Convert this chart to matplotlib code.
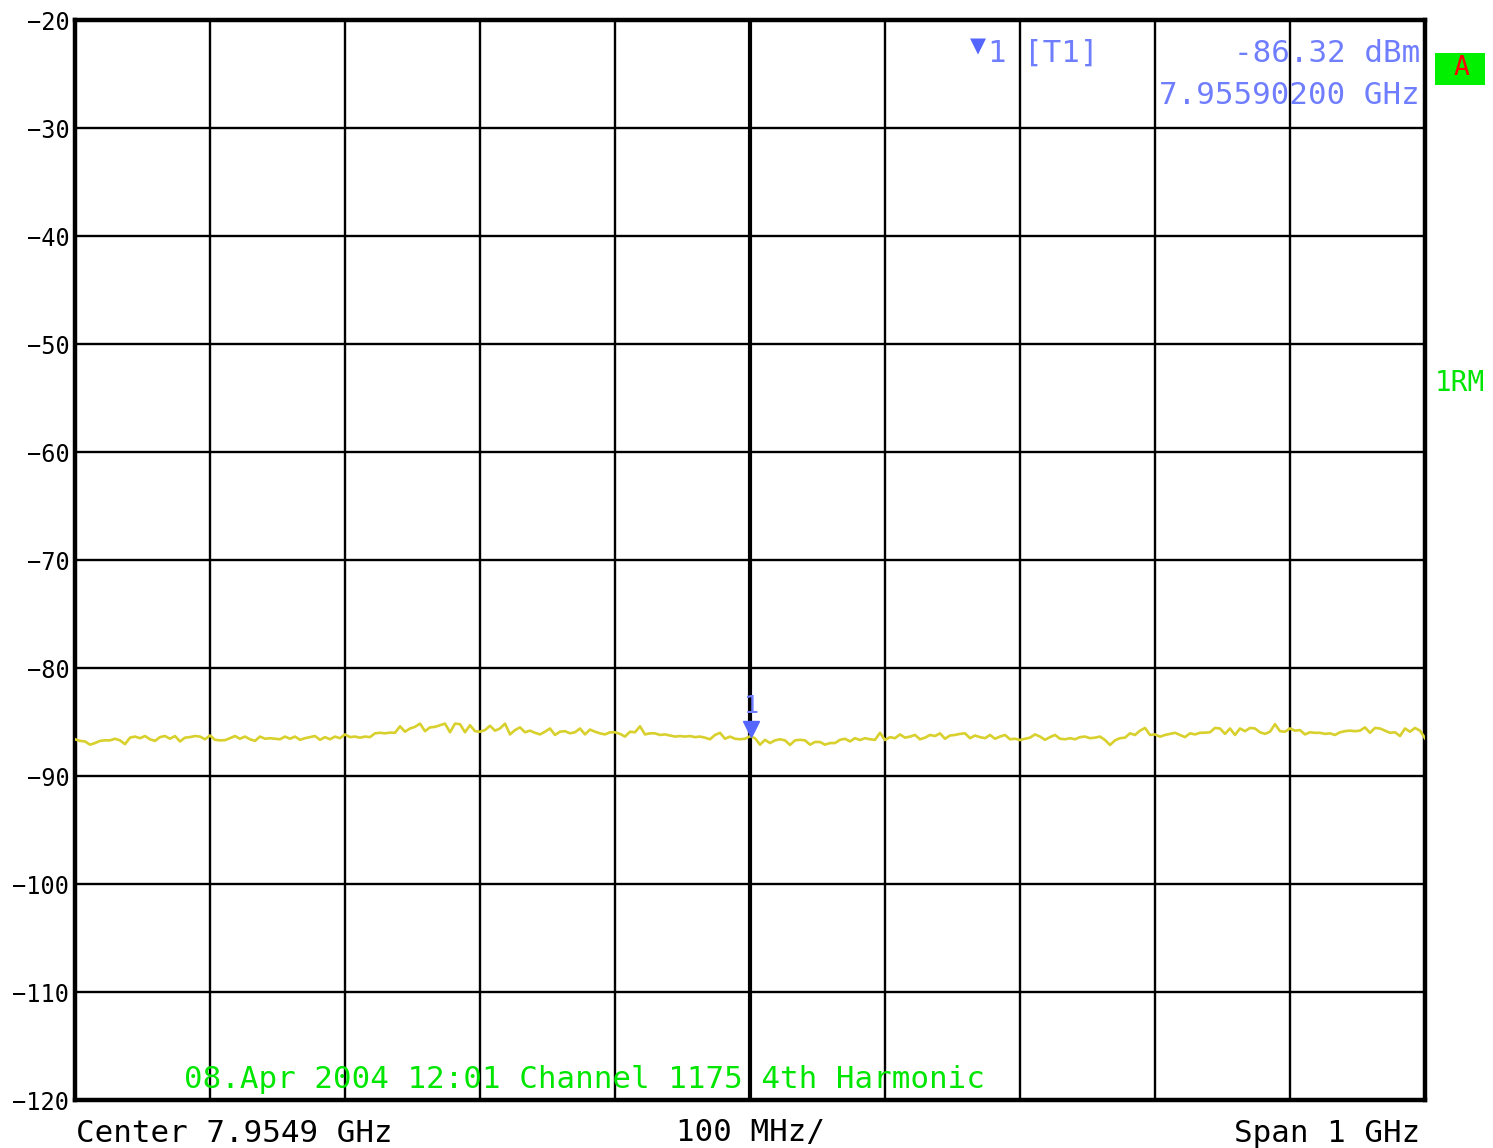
import numpy as np
import matplotlib.pyplot as plt
from matplotlib.transforms import ScaledTranslation
from matplotlib.patches import Rectangle

# sweep settings
center_ghz = 7.9549
span_ghz = 1.0
ref_levels = [-20, -30, -40, -50, -60, -70, -80, -90, -100, -110, -120]
level_labels = ["\u221220", "\u221230", "\u221240", "\u221250", "\u221260", "\u221270",
                "\u221280", "\u221290", "\u2212100", "\u2212110", "\u2212120"]

# trace 1, RM detector (dBm)
trace_dbm = [
    -86.60, -86.75, -86.80, -87.10, -86.95, -86.75, -86.70, -86.70, -86.55, -86.70,
    -87.05, -86.45, -86.35, -86.50, -86.30, -86.60, -86.75, -86.40, -86.30, -86.55,
    -86.30, -86.80, -86.45, -86.40, -86.30, -86.35, -86.60, -86.25, -86.65, -86.70,
    -86.68, -86.50, -86.30, -86.55, -86.35, -86.60, -86.75, -86.35, -86.55, -86.50,
    -86.55, -86.60, -86.35, -86.55, -86.35, -86.65, -86.50, -86.40, -86.30, -86.65,
    -86.40, -86.60, -86.35, -86.50, -86.15, -86.40, -86.35, -86.45, -86.35, -86.40,
    -86.05, -86.00, -86.05, -85.98, -86.00, -85.40, -85.90, -85.60, -85.45, -85.15,
    -85.85, -85.50, -85.45, -85.30, -85.15, -85.95, -85.15, -85.20, -85.95, -85.30,
    -85.85, -85.90, -85.75, -85.35, -85.80, -85.60, -85.15, -86.15, -85.75, -85.50,
    -85.95, -85.80, -86.00, -86.15, -85.90, -85.60, -86.20, -85.90, -85.85, -86.05,
    -85.95, -85.60, -86.15, -85.70, -85.90, -86.05, -86.15, -85.95, -85.95, -86.10,
    -86.35, -85.90, -85.95, -85.40, -86.15, -86.05, -86.05, -86.20, -86.15, -86.25,
    -86.35, -86.30, -86.35, -86.30, -86.40, -86.35, -86.45, -86.60, -86.20, -86.00,
    -86.55, -86.35, -86.55, -86.60, -86.55, -86.32, -86.50, -87.10, -86.65, -86.95,
    -86.70, -86.60, -86.70, -87.13, -86.70, -86.65, -86.70, -87.10, -86.85, -86.85,
    -87.10, -86.95, -86.95, -86.65, -86.55, -86.80, -86.50, -86.67, -86.50, -86.60,
    -86.65, -86.00, -86.67, -86.40, -86.50, -86.15, -86.45, -86.35, -86.20, -86.60,
    -86.45, -86.20, -86.30, -86.05, -86.55, -86.25, -86.20, -86.10, -86.05, -86.50,
    -86.25, -86.40, -86.50, -86.20, -86.55, -86.35, -86.20, -86.60, -86.55, -86.67,
    -86.55, -86.45, -86.15, -86.35, -86.65, -86.40, -86.20, -86.55, -86.60, -86.50,
    -86.60, -86.40, -86.35, -86.50, -86.45, -86.35, -86.67, -87.13, -86.70, -86.50,
    -86.45, -86.05, -86.20, -85.80, -85.55, -86.20, -86.15, -86.36, -86.20, -86.10,
    -86.00, -86.20, -86.40, -86.05, -86.15, -86.00, -85.99, -85.95, -85.55, -85.60,
    -86.10, -85.60, -86.20, -85.60, -85.85, -85.55, -85.60, -85.95, -86.10, -85.90,
    -85.20, -85.85, -85.90, -85.60, -85.80, -85.75, -86.15, -85.95, -86.00, -86.00,
    -86.10, -86.05, -86.20, -85.95, -85.85, -85.80, -85.85, -85.80, -85.50, -86.00,
    -85.55, -85.60, -85.80, -86.00, -85.95, -86.30, -85.60, -85.90, -85.55, -85.80,
    -86.50,
]

marker_ghz = 7.95590200
marker_dbm = -86.32

W, H = 1493, 1148
MONO = "DejaVu Sans Mono"
BLUE = "#6f7dff"
GREEN = "#00e600"
FS = 22.2


def fpos(x, y):
    return x / W, 1 - y / H


fig = plt.figure(figsize=(W / 100, H / 100), dpi=100)
ax = fig.add_axes([75 / W, 1 - 1100 / H, 1350 / W, 1080 / H])

f_start = center_ghz - span_ghz / 2
f_stop = center_ghz + span_ghz / 2
freqs = np.linspace(f_start, f_stop, len(trace_dbm))

ax.plot(freqs, trace_dbm, color="#d8d02c", lw=1.9, zorder=3)
ax.set_xlim(f_start, f_stop)
ax.set_ylim(-120, -20)
ax.set_xticks(np.linspace(f_start, f_stop, 11))
ax.set_yticks(ref_levels)
ax.set_xticklabels([])
ax.set_yticklabels(level_labels, fontfamily=MONO, fontsize=17)
ax.tick_params(length=0, pad=4)
ax.grid(True, color="black", lw=1.7, zorder=1)
ax.axvline(center_ghz, color="black", lw=3, zorder=1)
for s in ax.spines.values():
    s.set_linewidth(3.2)

# marker 1
shift = ScaledTranslation(0, 5 / 72, fig.dpi_scale_trans)
ax.plot([marker_ghz], [marker_dbm], marker="v", ms=11, color="#5566ff",
        mec="#5566ff", transform=ax.transData + shift, zorder=4)
ax.annotate("1", (marker_ghz, marker_dbm), xytext=(0, 22), textcoords="offset points",
            ha="center", va="center", color=BLUE, fontsize=18, fontfamily=MONO)

# marker readout
fig.text(*fpos(978, 46), "\u25bc", color="#5566ff", fontsize=15, ha="center", va="center")
fig.text(*fpos(987, 53), "1", color=BLUE, fontsize=FS, fontfamily=MONO, va="center")
fig.text(*fpos(1024, 53), "[T1]", color=BLUE, fontsize=FS, fontfamily=MONO, va="center")
fig.text(*fpos(1420, 53), f"{marker_dbm:.2f} dBm", color=BLUE, fontsize=FS,
         fontfamily=MONO, ha="right", va="center")
fig.text(*fpos(1420, 96), f"{marker_ghz:.8f} GHz", color=BLUE, fontsize=FS,
         fontfamily=MONO, ha="right", va="center")

# status box and trace label
x0, y0 = fpos(1435, 85)
fig.patches.append(Rectangle((x0, y0), 50 / W, 32 / H, transform=fig.transFigure,
                             facecolor="#00f000", edgecolor="none"))
fig.text(*fpos(1461, 68), "A", color="red", fontsize=19, fontfamily=MONO,
         ha="center", va="center")
fig.text(*fpos(1435, 383), "1RM", color=GREEN, fontsize=20, fontfamily=MONO, va="center")

# title line
fig.text(*fpos(184, 1080), "08.Apr 2004 12:01 Channel 1175 4th Harmonic", color=GREEN,
         fontsize=FS, fontfamily=MONO, va="center", zorder=5)

# frequency axis annotation
fig.text(*fpos(76, 1133), f"Center {center_ghz} GHz", fontsize=FS, fontfamily=MONO,
         va="center")
fig.text(*fpos(751, 1133), "100 MHz/", fontsize=FS, fontfamily=MONO,
         ha="center", va="center")
fig.text(*fpos(1420, 1133), f"Span {span_ghz:g} GHz", fontsize=FS, fontfamily=MONO,
         ha="right", va="center")

fig.savefig("out.png", dpi=100, facecolor="white")
